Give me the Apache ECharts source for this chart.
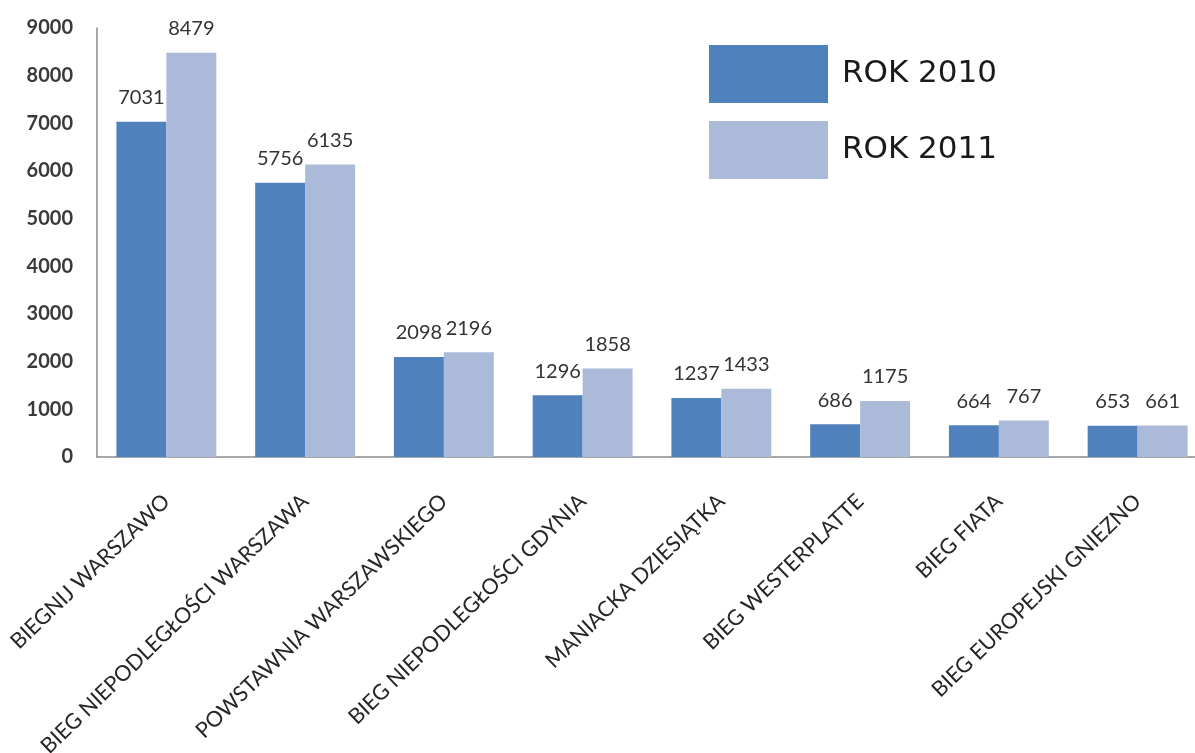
<!DOCTYPE html>
<html>
<head>
<meta charset="utf-8">
<script src="https://cdn.jsdelivr.net/npm/echarts@6/dist/echarts.min.js"></script>
<style>
html,body{margin:0;padding:0;background:#fff;}
#chart{width:1195px;height:753px;}
</style>
</head>
<body>
<div id="chart"></div>
<script>
const categories = ['BIEGNIJ WARSZAWO','BIEG NIEPODLEGŁOŚCI WARSZAWA','POWSTAWNIA WARSZAWSKIEGO','BIEG NIEPODLEGŁOŚCI GDYNIA','MANIACKA DZIESIĄTKA','BIEG WESTERPLATTE','BIEG FIATA','BIEG EUROPEJSKI GNIEZNO'];
const rok2010 = [7031, 5756, 2098, 1296, 1237, 686, 664, 653];
const rok2011 = [8479, 6135, 2196, 1858, 1433, 1175, 767, 661];
const seriesNames = ['ROK 2010', 'ROK 2011'];

const chart = echarts.init(document.getElementById('chart'));
const labelStyle = {
  show: true, position: 'top', distance: 14,
  fontFamily: 'Lato', fontSize: 20, color: '#333333'
};
chart.setOption({
  animation: false,
  backgroundColor: '#ffffff',
  grid: { left: 97, top: 28, width: 1110, height: 429, containLabel: false, outerBoundsMode: 'none' },
  legend: {
    orient: 'vertical', left: 704, top: 40,
    itemWidth: 119, itemHeight: 58, itemGap: 18,
    icon: 'rect',
    textStyle: { fontFamily: 'DejaVu Sans', fontSize: 31, color: '#1a1a1a', padding: [0,0,0,9] },
    data: seriesNames
  },
  xAxis: {
    type: 'category', data: categories,
    axisLine: { show: true, lineStyle: { color: '#8c8c8c', width: 1.5 } },
    axisTick: { show: false },
    axisLabel: { interval: 0, rotate: 44, margin: 41, fontFamily: 'Lato', fontSize: 21.5, color: '#262626' }
  },
  yAxis: {
    type: 'value', min: 0, max: 9000, interval: 1000,
    axisLine: { show: true, lineStyle: { color: '#8c8c8c', width: 1.5 } },
    axisTick: { show: false },
    splitLine: { show: false },
    axisLabel: { margin: 24, fontFamily: 'Lato', fontWeight: 'bold', fontSize: 20, color: '#3a3a3a',
      formatter: function (v) { return String(v); } }
  },
  series: [
    { name: seriesNames[0], type: 'bar', data: rok2010, barGap: '0%', barCategoryGap: '28%',
      itemStyle: { color: '#4F81BD' }, label: labelStyle },
    { name: seriesNames[1], type: 'bar', data: rok2011, barGap: '0%', barCategoryGap: '28%',
      itemStyle: { color: '#AABAD8' }, label: labelStyle }
  ]
});
</script>
</body>
</html>
